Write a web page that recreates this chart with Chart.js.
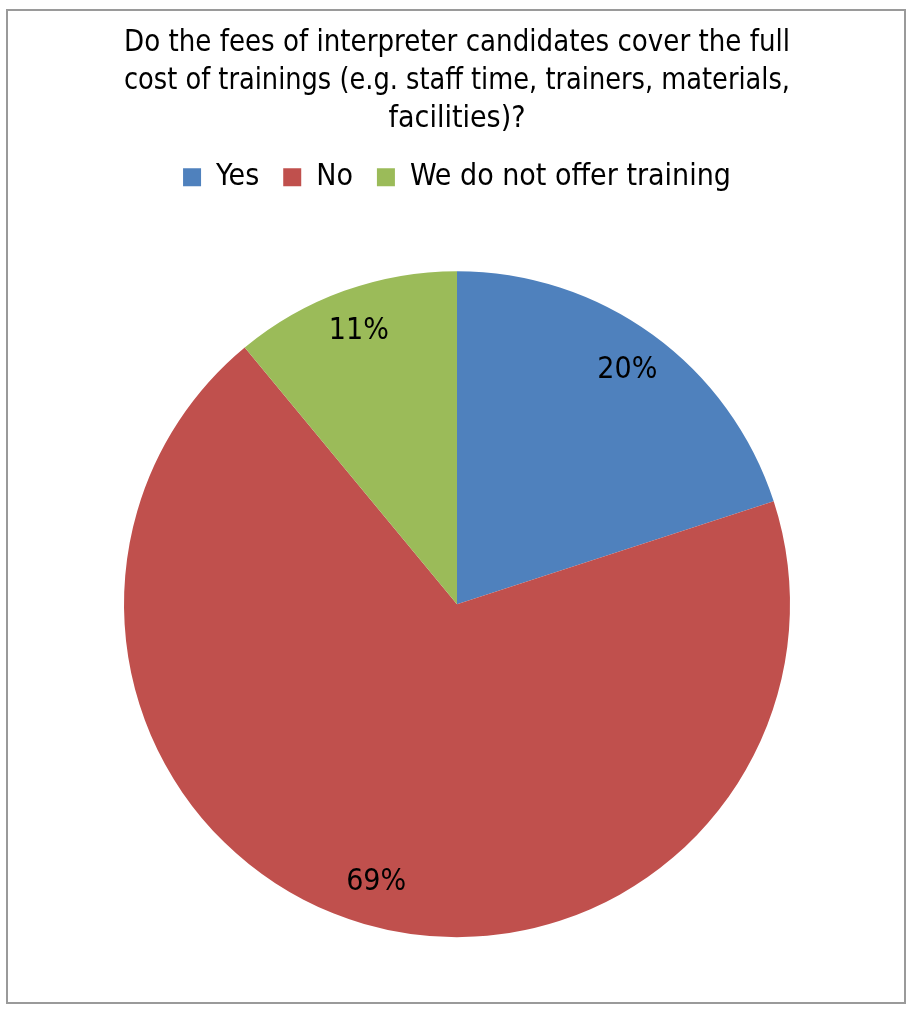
<!DOCTYPE html>
<html>
<head>
<meta charset="utf-8">
<script src="https://cdn.jsdelivr.net/npm/chart.js@4"></script>
<style>
  html, body { margin: 0; padding: 0; background: #fff; }
  #wrap { position: relative; width: 907px; height: 1009px; }
  #frame { position: absolute; left: 6px; top: 9px; width: 896px; height: 991px; border: 2px solid #9a9a9a; }
  canvas { position: absolute; left: 0; top: 0; }
</style>
</head>
<body>
<div id="wrap">
  <div id="frame"></div>
  <canvas id="pie" width="907" height="1009"></canvas>
</div>
<script>
(function() {
  "use strict";

  // data
  const titleLines = [
    "Do the fees of interpreter candidates cover the full",
    "cost of trainings (e.g. staff time, trainers, materials,",
    "facilities)?"
  ];
  const categories = ["Yes", "No", "We do not offer training"];
  const shares = [20, 69, 11];
  const colors = ["#4F81BD", "#C0504D", "#9BBB59"];

  const fontFamily = "'Liberation Sans Narrow', 'DejaVu Sans Condensed', 'Arial Narrow', sans-serif";

  // percent labels inside slices
  const sliceLabels = {
    id: 'sliceLabels',
    afterDatasetsDraw: function(chart) {
      let ctx = chart.ctx;
      let meta = chart.getDatasetMeta(0);
      let total = shares.reduce(function(a, b) { return a + b; }, 0);
      ctx.save();
      ctx.font = "30px " + fontFamily;
      ctx.fillStyle = "#000";
      ctx.textAlign = "center";
      ctx.textBaseline = "middle";
      meta.data.forEach(function(arc, i) {
        let p = arc.getProps(['x', 'y', 'startAngle', 'endAngle', 'outerRadius'], true);
        let mid = (p.startAngle + p.endAngle) / 2;
        let r = p.outerRadius * 0.87;
        let pct = Math.round(shares[i] / total * 100) + "%";
        ctx.fillText(pct, p.x + Math.cos(mid) * r, p.y + Math.sin(mid) * r);
      });
      ctx.restore();
    }
  };

  new Chart(document.getElementById('pie'), {
    type: 'pie',
    data: {
      labels: categories,
      datasets: [{
        data: shares,
        backgroundColor: colors,
        borderWidth: 0
      }]
    },
    options: {
      responsive: false,
      animation: false,
      layout: {
        padding: { left: 124, right: 117, top: 24, bottom: 3 }
      },
      plugins: {
        title: {
          display: true,
          text: titleLines,
          color: "#000",
          font: { family: fontFamily, size: 30, weight: 'normal', lineHeight: 1.27 },
          padding: { top: 0, bottom: 0 }
        },
        legend: {
          display: true,
          position: 'top',
          labels: {
            color: "#000",
            font: { family: fontFamily, size: 30 },
            boxWidth: 18,
            boxHeight: 18,
            padding: 24
          }
        },
        tooltip: { enabled: false }
      }
    },
    plugins: [sliceLabels]
  });
})();
</script>
</body>
</html>
